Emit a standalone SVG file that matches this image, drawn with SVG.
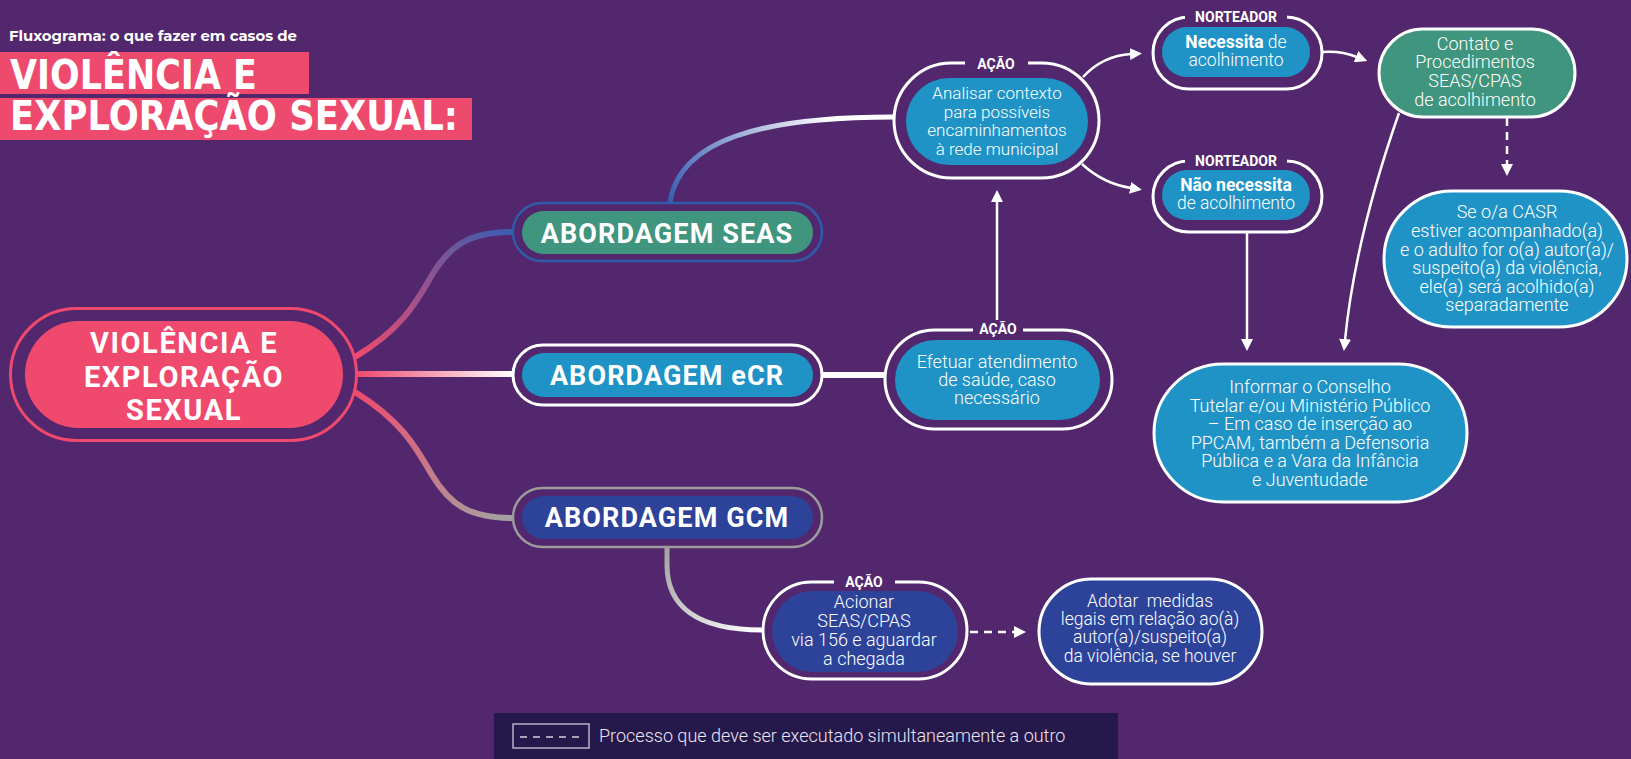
<svg xmlns="http://www.w3.org/2000/svg" width="1631" height="759" viewBox="0 0 1631 759">
<defs>
<style>
.t{font-family:Roboto,"Liberation Sans",sans-serif;fill:#fff;text-anchor:middle}
.body{font-size:18px;font-weight:300}
.b17{font-size:17px;font-weight:300}
.lab{font-size:14px;font-weight:700}
.abd{font-size:27px;font-weight:700;letter-spacing:1.1px}
.ring{fill:none;stroke:#fff;stroke-width:3}
.gap{fill:#52276e}
.conn{fill:none;stroke-linecap:butt}
.arr{fill:none;stroke:#fff;stroke-width:2.5}
.dash{stroke-dasharray:8 6}
.lblue{fill:#1f93c6}
.dblue{fill:#2c4399}
.green{fill:#3f957e}
</style>
<marker id="ah" viewBox="0 0 12 12" markerWidth="12" markerHeight="12" refX="1" refY="6" orient="auto" markerUnits="userSpaceOnUse">
<path d="M0,0 L12,6 L0,12 z" fill="#fff"/>
</marker>
<linearGradient id="g1" gradientUnits="userSpaceOnUse" x1="355" y1="357" x2="512" y2="232"><stop offset="0" stop-color="#ef4a6d"/><stop offset="1" stop-color="#3a5db0"/></linearGradient>
<linearGradient id="g2" gradientUnits="userSpaceOnUse" x1="358" y1="374" x2="512" y2="374"><stop offset="0" stop-color="#ef4a6d"/><stop offset="1" stop-color="#ffffff"/></linearGradient>
<linearGradient id="g3" gradientUnits="userSpaceOnUse" x1="355" y1="392" x2="512" y2="518"><stop offset="0" stop-color="#ef4a6d"/><stop offset="1" stop-color="#a3a3a3"/></linearGradient>
<linearGradient id="g4" gradientUnits="userSpaceOnUse" x1="670" y1="202" x2="830" y2="117"><stop offset="0" stop-color="#3a5db0"/><stop offset="1" stop-color="#ffffff"/></linearGradient>
<linearGradient id="g5" gradientUnits="userSpaceOnUse" x1="669" y1="548" x2="760" y2="630"><stop offset="0" stop-color="#a3a3a3"/><stop offset="1" stop-color="#ffffff"/></linearGradient>
</defs>
<rect x="0" y="0" width="1631" height="759" fill="#52276e"/>

<g id="title">
<text x="9" y="41" font-family="Montserrat,'Open Sans',sans-serif" font-weight="700" font-size="15" fill="#fff" textLength="288" lengthAdjust="spacingAndGlyphs">Fluxograma: o que fazer em casos de</text>
<rect x="0" y="52" width="309" height="42" fill="#ee4a6e"/>
<rect x="0" y="98" width="472" height="42" fill="#ee4a6e"/>
<text x="10" y="89" font-family="'DejaVu Sans',sans-serif" font-weight="900" font-size="41" fill="#fff" textLength="247" lengthAdjust="spacingAndGlyphs">VIOLÊNCIA E</text>
<text x="10" y="130" font-family="'DejaVu Sans',sans-serif" font-weight="900" font-size="41" fill="#fff" textLength="448" lengthAdjust="spacingAndGlyphs">EXPLORAÇÃO SEXUAL:</text>
</g>

<g id="connectors">
<path class="conn" d="M355,357 C400,330 415,305 432,275 C450,245 470,232 512,232" stroke="url(#g1)" stroke-width="6"/>
<path class="conn" d="M357,374 L512,374" stroke="url(#g2)" stroke-width="6"/>
<path class="conn" d="M355,392 C400,420 415,445 432,475 C450,505 470,518 512,518" stroke="url(#g3)" stroke-width="6"/>
<path class="conn" d="M670,202 C680,140 760,117 893,117" stroke="url(#g4)" stroke-width="5"/>
<path class="conn" d="M823,375 L884,375" stroke="#fff" stroke-width="6"/>
<path class="conn" d="M667,548 L667,565 C667,605 695,630 762,630" stroke="url(#g5)" stroke-width="5"/>
<path class="arr" d="M1083,77 C1097,62 1113,55 1131,54" marker-end="url(#ah)"/>
<path class="arr" d="M1082,164 C1096,177 1112,185 1131,188" marker-end="url(#ah)"/>
<path class="arr" d="M997,320 L997,201" marker-end="url(#ah)"/>
<path class="arr" d="M1322,52 C1335,51 1347,53 1357,57" marker-end="url(#ah)"/>
<path class="arr dash" d="M1507,118 L1507,165" marker-end="url(#ah)"/>
<path class="arr" d="M1247,232 L1247,340" marker-end="url(#ah)"/>
<path class="arr" d="M1399,113 C1372,190 1352,270 1345,340" marker-end="url(#ah)"/>
<path class="arr dash" d="M970,632 L1015,632" marker-end="url(#ah)"/>
</g>

<g id="node-main">
<rect x="10.5" y="308.5" width="346" height="132" rx="66" fill="none" stroke="#ef4a6d" stroke-width="3"/>
<rect x="25" y="321" width="318" height="107" rx="53.5" fill="#ef4a6d"/>
<text class="t" font-size="29" font-weight="700" letter-spacing="1.6"><tspan x="184" y="353">VIOLÊNCIA E</tspan><tspan x="184" y="387">EXPLORAÇÃO</tspan><tspan x="184" y="420">SEXUAL</tspan></text>
</g>

<g id="node-seas">
<rect x="513" y="203" width="309" height="58" rx="29" fill="none" stroke="#2f5bab" stroke-width="2.5"/>
<rect x="522" y="211" width="291" height="43" rx="21.5" class="green"/>
<text class="t abd" x="667" y="243">ABORDAGEM SEAS</text>
</g>

<g id="node-ecr">
<rect x="513" y="345" width="309" height="60" rx="30" class="ring" stroke-width="2.5"/>
<rect x="522" y="353" width="291" height="44" rx="22" class="lblue"/>
<text class="t abd" x="667" y="385">ABORDAGEM eCR</text>
</g>

<g id="node-gcm">
<rect x="513" y="488" width="309" height="59" rx="29.5" fill="none" stroke="#9c9c9c" stroke-width="2.5"/>
<rect x="522" y="496" width="291" height="43" rx="21.5" class="dblue"/>
<text class="t abd" x="667" y="527">ABORDAGEM GCM</text>
</g>

<g id="node-analisar">
<rect x="894" y="63" width="205" height="115" rx="57.5" class="ring"/>
<rect x="965" y="55" width="63" height="16" class="gap"/>
<text class="t lab" x="996" y="69">AÇÃO</text>
<rect x="906" y="78" width="182" height="87" rx="43.5" class="lblue"/>
<text class="t b17"><tspan x="997" y="99">Analisar contexto</tspan><tspan x="997" y="118">para possíveis</tspan><tspan x="997" y="136">encaminhamentos</tspan><tspan x="997" y="155">à rede municipal</tspan></text>
</g>

<g id="node-necessita">
<rect x="1153" y="17" width="169" height="72" rx="36" class="ring"/>
<rect x="1185" y="8" width="102" height="16" class="gap"/>
<text class="t lab" x="1236" y="22">NORTEADOR</text>
<rect x="1162" y="27" width="148" height="50" rx="25" class="lblue"/>
<text class="t" font-size="17.5"><tspan x="1236" y="48"><tspan font-weight="700">Necessita</tspan><tspan font-weight="300"> de</tspan></tspan><tspan x="1236" y="66" font-weight="300">acolhimento</tspan></text>
</g>

<g id="node-nao">
<rect x="1153" y="161" width="169" height="71" rx="35.5" class="ring"/>
<rect x="1185" y="152" width="102" height="16" class="gap"/>
<text class="t lab" x="1236" y="166">NORTEADOR</text>
<rect x="1162" y="170" width="148" height="50" rx="25" class="lblue"/>
<text class="t" font-size="17.5"><tspan x="1236" y="191" font-weight="700">Não necessita</tspan><tspan x="1236" y="209" font-weight="300">de acolhimento</tspan></text>
</g>

<g id="node-contato">
<rect x="1379" y="29" width="196" height="88" rx="44" class="green" stroke="#fff" stroke-width="3"/>
<text class="t body"><tspan x="1475" y="50">Contato e</tspan><tspan x="1475" y="68">Procedimentos</tspan><tspan x="1475" y="87">SEAS/CPAS</tspan><tspan x="1475" y="106">de acolhimento</tspan></text>
</g>

<g id="node-casr">
<rect x="1384" y="191" width="243" height="136" rx="68" class="lblue" stroke="#fff" stroke-width="3"/>
<text class="t body"><tspan x="1507" y="218">Se o/a CASR</tspan><tspan x="1507" y="237">estiver acompanhado(a)</tspan><tspan x="1507" y="256">e o adulto for o(a) autor(a)/</tspan><tspan x="1507" y="274">suspeito(a) da violência,</tspan><tspan x="1507" y="293">ele(a) será acolhido(a)</tspan><tspan x="1507" y="311">separadamente</tspan></text>
</g>

<g id="node-informar">
<rect x="1154" y="364" width="313" height="138" rx="69" class="lblue" stroke="#fff" stroke-width="3"/>
<text class="t body"><tspan x="1310" y="393">Informar o Conselho</tspan><tspan x="1310" y="412">Tutelar e/ou Ministério Público</tspan><tspan x="1310" y="430">– Em caso de inserção ao</tspan><tspan x="1310" y="449">PPCAM, também a Defensoria</tspan><tspan x="1310" y="467">Pública e a Vara da Infância</tspan><tspan x="1310" y="486">e Juventudade</tspan></text>
</g>

<g id="node-efetuar">
<rect x="885" y="330" width="227" height="99" rx="49.5" class="ring"/>
<rect x="973" y="322" width="50" height="16" class="gap"/>
<text class="t lab" x="998" y="334">AÇÃO</text>
<rect x="895" y="340" width="205" height="80" rx="40" class="lblue"/>
<text class="t body"><tspan x="997" y="368">Efetuar atendimento</tspan><tspan x="997" y="386">de saúde, caso</tspan><tspan x="997" y="404">necessário</tspan></text>
</g>

<g id="node-acionar">
<rect x="763" y="582" width="204" height="97" rx="48.5" class="ring"/>
<rect x="834" y="575" width="61" height="16" class="gap"/>
<text class="t lab" x="864" y="587">AÇÃO</text>
<rect x="772" y="591" width="186" height="81" rx="40.5" class="dblue"/>
<text class="t body"><tspan x="864" y="608">Acionar</tspan><tspan x="864" y="627">SEAS/CPAS</tspan><tspan x="864" y="646">via 156 e aguardar</tspan><tspan x="864" y="665">a chegada</tspan></text>
</g>

<g id="node-adotar">
<rect x="1039" y="579" width="223" height="105" rx="52.5" class="dblue" stroke="#fff" stroke-width="3"/>
<text class="t" font-size="17.5" font-weight="300"><tspan x="1150" y="607">Adotar&#160; medidas</tspan><tspan x="1150" y="625">legais em relação ao(à)</tspan><tspan x="1150" y="643">autor(a)/suspeito(a)</tspan><tspan x="1150" y="662">da violência, se houver</tspan></text>
</g>

<g id="legend">
<rect x="494" y="713" width="624" height="46" fill="#25184a"/>
<rect x="513" y="724" width="76" height="24" fill="none" stroke="#b8b0c8" stroke-width="1.5"/>
<line x1="520" y1="737" x2="584" y2="737" stroke="#d8d0e0" stroke-width="1.5" stroke-dasharray="7 6"/>
<text x="599" y="742" font-family="Roboto,'Liberation Sans',sans-serif" font-weight="300" font-size="18" fill="#ece6f2">Processo que deve ser executado simultaneamente a outro</text>
</g>
</svg>
